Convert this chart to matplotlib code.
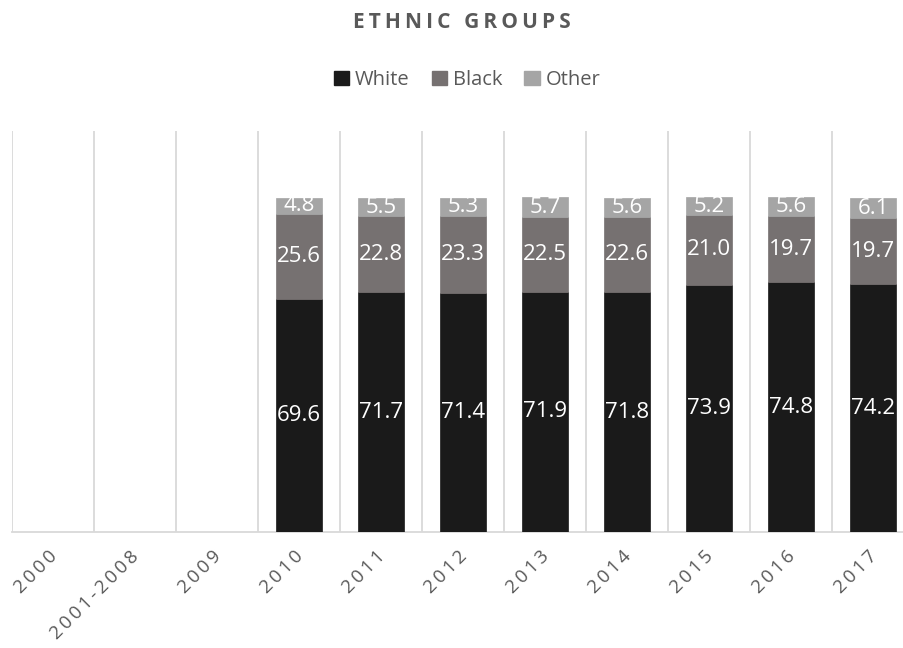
import matplotlib
matplotlib.use("Agg")
import matplotlib.pyplot as plt
from matplotlib.patches import Patch
from matplotlib.transforms import ScaledTranslation
import numpy as np

plt.rcParams['font.family'] = ['Open Sans', 'DejaVu Sans']

# data
years = ["2000", "2001-2008", "2009", "2010", "2011", "2012",
         "2013", "2014", "2015", "2016", "2017"]
white = [None, None, None, 69.6, 71.7, 71.4, 71.9, 71.8, 73.9, 74.8, 74.2]
black = [None, None, None, 25.6, 22.8, 23.3, 22.5, 22.6, 21.0, 19.7, 19.7]
other = [None, None, None, 4.8, 5.5, 5.3, 5.7, 5.6, 5.2, 5.6, 6.1]

series = [("White", white, "#1a1a1a"),
          ("Black", black, "#767171"),
          ("Other", other, "#a5a5a5")]

text_grey = "#595959"
grid_grey = "#d9d9d9"


def spaced(s, sep="\u2009"):
    return sep.join(s)


W, H = 904, 648
fig = plt.figure(figsize=(W / 100, H / 100), dpi=100)
ax = fig.add_axes([12 / W, (H - 532) / H, 902 / W, 401 / H])

x = np.arange(len(years))
bottom = np.zeros(len(years))
for name, vals, color in series:
    v = np.array([np.nan if a is None else a for a in vals], dtype=float)
    ax.bar(x, np.nan_to_num(v), width=0.56, bottom=bottom, color=color,
           edgecolor=color, linewidth=0.5, zorder=3)
    for xi, val, b in zip(x, v, bottom):
        if np.isnan(val):
            continue
        ax.text(xi, b + val / 2, f"{val:.1f}", ha="center", va="center",
                color="white", fontsize=16, zorder=4)
    bottom = bottom + np.nan_to_num(v)

ax.set_xlim(-0.5, len(years) - 0.5)
ax.set_ylim(0, 120)

# category separators
for b in np.arange(-0.5, len(years), 1.0):
    ax.axvline(b, color=grid_grey, linewidth=1.3, zorder=1)

for side in ["top", "right", "left"]:
    ax.spines[side].set_visible(False)
ax.spines["bottom"].set_color(grid_grey)
ax.spines["bottom"].set_linewidth(1.3)
ax.set_yticks([])
ax.set_xticks(x)
ax.set_xticklabels([spaced(y) for y in years], rotation=45, ha="right",
                   rotation_mode="anchor", color=text_grey, fontsize=13.5)
ax.tick_params(axis="x", length=0, pad=11)
# nudge rotated labels so they end just left of the bar centre
shift = ScaledTranslation(-5 / 100, 0, fig.dpi_scale_trans)
for lbl in ax.get_xticklabels():
    lbl.set_transform(lbl.get_transform() + shift)

fig.text(462 / W, 1 - 22 / H, spaced("ETHNIC GROUPS"),
         ha="center", va="center", fontsize=15, fontweight="bold",
         color=text_grey)

handles = [Patch(facecolor=c, edgecolor=c, label=n) for n, _, c in series]
leg = fig.legend(handles=handles, loc="center", ncol=3,
                 bbox_to_anchor=(467 / W, 1 - 80 / H), frameon=False,
                 fontsize=14.5, handlelength=0.75, handleheight=0.75,
                 handletextpad=0.3, columnspacing=1.1)
for t in leg.get_texts():
    t.set_color(text_grey)

fig.savefig("out.png", dpi=100)
